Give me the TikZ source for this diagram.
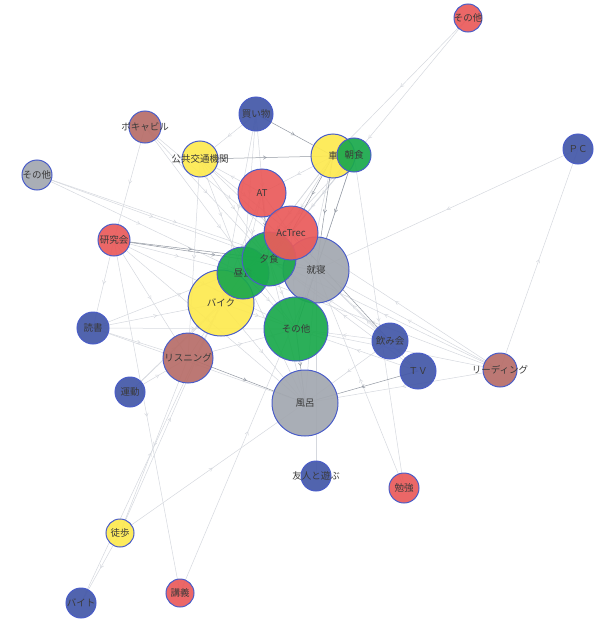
\documentclass[tikz,border=0pt]{standalone}
\usepackage{fontspec}
\setmainfont{Noto Sans CJK JP}
\usetikzlibrary{arrows.meta,decorations.markings,backgrounds}
\definecolor{cred}{HTML}{E95B5B}
\definecolor{cgreen}{HTML}{1BA94C}
\definecolor{cyellow}{HTML}{FDE951}
\definecolor{cgrey}{HTML}{A3A8B0}
\definecolor{cblue}{HTML}{4458A8}
\definecolor{cbrown}{HTML}{B76E69}
\definecolor{cline}{HTML}{4A5DC8}
\definecolor{ctext}{HTML}{3A3A3A}
\definecolor{cedge}{HTML}{D5D8DE}
\definecolor{cedgedark}{HTML}{9298A2}
\begin{document}
\begin{tikzpicture}[x=1pt,y=-1pt,
  lab/.style={inner sep=0pt,text=ctext,text opacity=1,fill opacity=0,font=\fontsize{9.5}{10}\selectfont},
  v/.style={circle,draw=cline,line width=1pt,inner sep=0pt,fill opacity=0.93},
  vr/.style={v,fill=cred},vg/.style={v,fill=cgreen},vy/.style={v,fill=cyellow},
  vgr/.style={v,fill=cgrey},vb/.style={v,fill=cblue},vbr/.style={v,fill=cbrown},
  e/.style={draw=cedge,line width=0.5pt,postaction={decorate},
    decoration={markings,mark=at position 0.5 with {\arrow{To[length=3.5pt,width=4pt]}}}},
  ed/.style={e,draw=cedgedark}]
\useasboundingbox (0,0) rectangle (608,629);
% nodes (drawing order matters for overlaps)
\node[vb,minimum size=30pt,label={[lab]center:ＰＣ}] (pc) at (578,149) {};
\node[vr,minimum size=28pt,label={[lab]center:その他}] (ored) at (468,18) {};
\node[vb,minimum size=34pt,label={[lab]center:買い物}] (kai) at (256,114) {};
\node[vbr,minimum size=32pt,label={[lab]center:ボキャビル}] (boka) at (145,127) {};
\node[vy,minimum size=36pt,label={[lab]center:公共交通機関}] (kou) at (200,159) {};
\node[vy,minimum size=44pt,label={[lab]center:車}] (car) at (333,156) {};
\node[vg,minimum size=34pt,label={[lab]center:朝食}] (asa) at (354,155) {};
\node[vgr,minimum size=30pt,label={[lab]center:その他}] (sgrey) at (37,175) {};
\node[vr,minimum size=32pt,label={[lab]center:研究会}] (kenkyu) at (114,240) {};
\node[vy,minimum size=66pt,label={[lab]center:バイク}] (baiku) at (221,303) {};
\node[vg,minimum size=52pt,label={[lab]center:昼食}] (hiru) at (243,273) {};
\node[vgr,minimum size=66pt,label={[lab]center:就寝}] (shu) at (316,270) {};
\node[vg,minimum size=54pt,label={[lab]center:夕食}] (yuu) at (269,259) {};
\node[vr,minimum size=48pt,label={[lab]center:AT}] (at) at (262,193) {};
\node[vr,minimum size=54pt,label={[lab]center:AcTrec}] (actrec) at (291,233) {};
\node[vg,minimum size=64pt,label={[lab]center:その他}] (sonog) at (296,329) {};
\node[vb,minimum size=32pt,label={[lab]center:読書}] (doku) at (93,328) {};
\node[vbr,minimum size=50pt,label={[lab]center:リスニング}] (risu) at (188,358) {};
\node[vb,minimum size=30pt,label={[lab]center:運動}] (undou) at (130,392) {};
\node[vb,minimum size=36pt,label={[lab]center:飲み会}] (nomi) at (390,341) {};
\node[vb,minimum size=36pt,label={[lab]center:ＴＶ}] (tv) at (418,371) {};
\node[vbr,minimum size=34pt,label={[lab]center:リーディング}] (read) at (500,370) {};
\node[vgr,minimum size=66pt,label={[lab]center:風呂}] (furo) at (305,403) {};
\node[vb,minimum size=30pt,label={[lab]center:友人と遊ぶ}] (yuujin) at (316,476) {};
\node[vr,minimum size=30pt,label={[lab]center:勉強}] (benkyo) at (404,488) {};
\node[vy,minimum size=28pt,label={[lab]center:徒歩}] (toho) at (120,533) {};
\node[vr,minimum size=28pt,label={[lab]center:講義}] (kougi) at (180,593) {};
\node[vb,minimum size=30pt,label={[lab]center:バイト}] (baito) at (81,603) {};
\begin{pgfonlayer}{background}
\foreach \a/\b in {ored/car,ored/yuu,kai/kou,kai/hiru,kai/baiku,kai/yuu,
  kou/yuu,kou/shu,kou/hiru,kou/risu,kou/actrec,
  boka/yuu,boka/shu,boka/kenkyu,boka/sonog,
  sgrey/yuu,sgrey/hiru,sgrey/shu,
  car/at,car/hiru,car/baiku,car/sonog,car/yuu,
  asa/yuu,asa/actrec,asa/benkyo,asa/hiru,asa/sonog,
  at/hiru,at/shu,at/baiku,at/kou,
  actrec/hiru,actrec/sonog,
  kenkyu/hiru,kenkyu/sonog,kenkyu/doku,kenkyu/risu,kenkyu/kougi,kenkyu/furo,
  doku/baiku,doku/sonog,doku/yuu,doku/risu,doku/furo,
  undou/baiku,undou/yuu,undou/risu,
  risu/sonog,risu/toho,risu/hiru,
  toho/baito,toho/furo,toho/baiku,baito/baiku,
  kougi/shu,benkyo/shu,yuujin/shu,
  nomi/shu,nomi/sonog,nomi/yuu,nomi/furo,
  tv/shu,tv/yuu,tv/sonog,
  read/pc,read/shu,read/actrec,read/sonog,read/furo,read/hiru,read/yuu,
  pc/shu,shu/furo,hiru/sonog,yuu/sonog,baiku/sonog,baiku/furo,hiru/furo,yuu/furo}
  {\draw[e] (\a.center) -- (\b.center);}
\foreach \a/\b in {kai/car,kou/car,car/actrec,car/shu,asa/shu,at/yuu,
  kenkyu/yuu,kenkyu/shu,tv/furo,sonog/furo,risu/furo,nomi/actrec,shu/sonog,actrec/yuu}
  {\draw[ed] (\a.center) -- (\b.center);}
\end{pgfonlayer}
\end{tikzpicture}
\end{document}
